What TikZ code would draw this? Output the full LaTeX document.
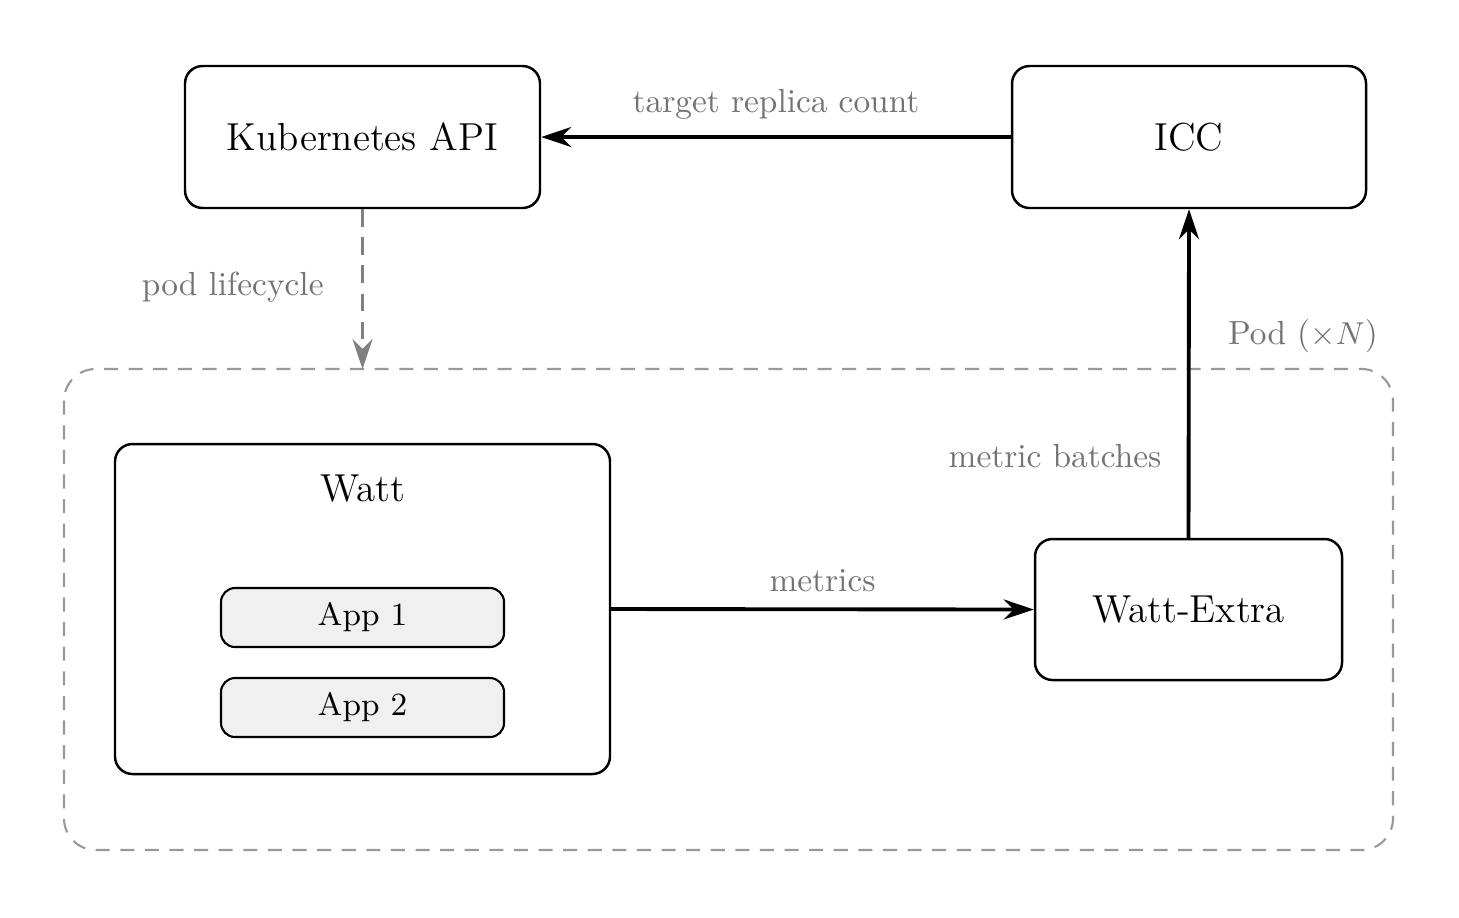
\documentclass[tikz,border=0pt]{standalone}
\usetikzlibrary{arrows.meta}
\begin{document}
\begin{tikzpicture}[x=1cm,y=1cm,
  box/.style={draw,rounded corners=5pt,line width=0.7pt,align=center,font=\fontsize{11.1}{13}\selectfont},
  app/.style={draw,rounded corners=4pt,line width=0.6pt,fill=gray!12,minimum width=2.83cm,minimum height=0.59cm,font=\fontsize{9.2}{11}\selectfont},
  lbl/.style={text=gray!90!black,font=\fontsize{9.5}{11}\selectfont},
  arr/.style={line width=1.1pt,-{Stealth[length=3mm,width=2mm]}}]
\useasboundingbox (0,0) rectangle (14.59,-9.17);
\draw[gray!80,dashed,dash pattern=on 4pt off 3pt,rounded corners=9pt,line width=0.6pt] (0.64,-3.69) rectangle (13.93,-8.50);
\node[lbl] (podlbl) at (13.03,-3.36) {Pod ($\times N$)};
\node[box,minimum width=3.55cm,minimum height=1.42cm] (k8s) at (3.625,-1.37) {Kubernetes API};
\node[box,minimum width=3.54cm,minimum height=1.42cm] (icc) at (11.89,-1.37) {ICC};
\node[box,minimum width=4.95cm,minimum height=3.30cm] (watt) at (3.625,-6.09) {};
\node[font=\fontsize{11.1}{13}\selectfont] (wattt) at (3.625,-4.89) {Watt};
\node[app] (a1) at (3.625,-6.175) {App 1};
\node[app] (a2) at (3.625,-7.075) {App 2};
\node[box,minimum width=3.07cm,minimum height=1.41cm] (we) at (11.885,-6.095) {Watt-Extra};
\coordinate (podtop) at (3.625,-3.69);
\draw[arr] (icc.west) -- node[lbl,above=1pt]{target replica count} (k8s.east);
\draw[line width=1.1pt,gray,dashed,dash pattern=on 5pt off 3pt,-{Stealth[length=3mm,width=2mm]}] (k8s.south) -- (podtop);
\node[lbl,anchor=east] (pl) at (3.36,-2.87) {pod lifecycle};
\draw[arr] (watt.east) -- node[lbl,above=1pt]{metrics} (we.west);
\draw[arr] (we.north) -- (icc.south);
\node[lbl] (mb) at (10.55,-4.56) {metric batches};
\end{tikzpicture}
\end{document}
